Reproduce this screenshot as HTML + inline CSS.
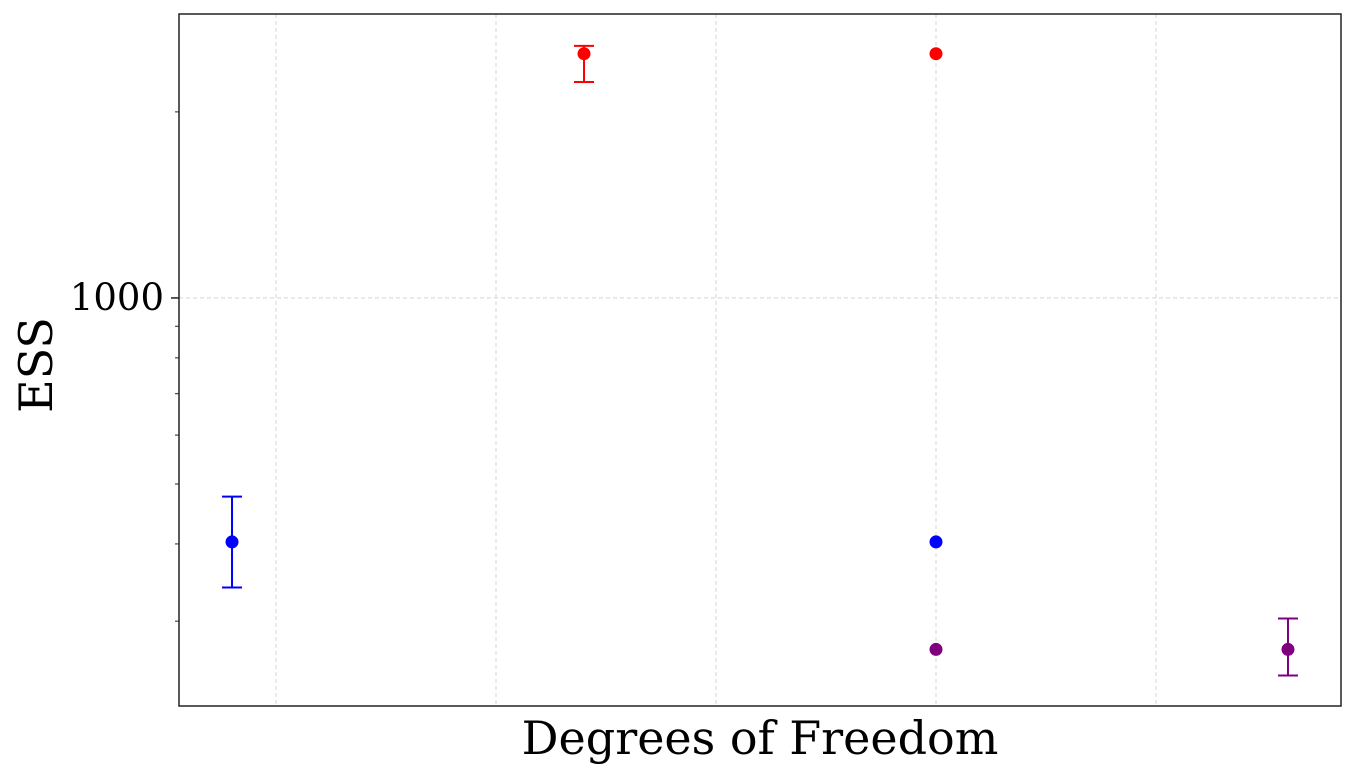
<!DOCTYPE html>
<html><head><meta charset="utf-8"><style>
body{margin:0;background:#fff;}
svg text{font-family:"DejaVu Serif","Liberation Serif",serif;fill:#000;}
</style></head><body>
<svg id="chart" width="1356" height="777" xmlns="http://www.w3.org/2000/svg">
<g id="grid"></g>
<g id="ticks"></g>
<g id="marks"></g>
<rect x="179" y="14" width="1162" height="692" fill="none" stroke="#222" stroke-width="1.5"/>
<text x="760" y="754" font-size="46" text-anchor="middle">Degrees of Freedom</text>
<text transform="translate(52,365) rotate(-90)" font-size="46" text-anchor="middle">ESS</text>
</svg>
<script>
const gridX=[1,2,3,4,5];
const majorTicks=[1000];
const majorLabels=["1000"];
const minorTicks=[300,400,500,600,700,800,900,2000];
const blueX=[0.8,4];const blueY=[403,403];const blueLo=[340,null];const blueHi=[477,null];
const redX=[2.4,4];const redY=[2484,2484];const redLo=[2236,null];const redHi=[2557,null];
const purpleX=[4,5.6];const purpleY=[270,270];const purpleLo=[null,245];const purpleHi=[null,303];
const X0=179,X1=1341,Y0=14,Y1=706;
const xmin=0.559,xmax=5.841;const ylmin=Math.log10(218.7),ylmax=Math.log10(2880);
function sx(v){return X0+(v-xmin)/(xmax-xmin)*(X1-X0);}
function sy(v){return Y1-(Math.log10(v)-ylmin)/(ylmax-ylmin)*(Y1-Y0);}
const NS="http://www.w3.org/2000/svg";
function mk(tag,attrs,parent){const e=document.createElementNS(NS,tag);for(const k in attrs)e.setAttribute(k,attrs[k]);parent.appendChild(e);return e;}
const grid=document.getElementById('grid'),ticks=document.getElementById('ticks'),marks=document.getElementById('marks');
gridX.forEach(v=>{const l=mk('line',{x1:sx(v),x2:sx(v),y1:Y0,y2:Y1,stroke:'#ccc','stroke-width':0.8,'stroke-dasharray':'4,3'},grid);

});
majorTicks.forEach((v,i)=>{const y=sy(v);
const g=mk('line',{x1:X0,x2:X1,y1:y,y2:y,stroke:'#ccc','stroke-width':0.8,'stroke-dasharray':'4,3'},grid);


const t=mk('line',{x1:X0-8,x2:X0,y1:y,y2:y,stroke:'#222','stroke-width':1.5},ticks);


const tx=mk('text',{x:X0-15,y:y+12,'font-size':37,'text-anchor':'end'},ticks);tx.textContent=majorLabels[i];

});
minorTicks.forEach(v=>{const y=sy(v);const t=mk('line',{x1:X0-4,x2:X0,y1:y,y2:y,stroke:'#222','stroke-width':1},ticks);

});
function series(xs,ys,lo,hi,color,name){xs.forEach((x,i)=>{const cx=sx(x);
if(lo[i]!=null){const a=sy(lo[i]),b=sy(hi[i]);
const e=mk('path',{d:`M${cx},${a}V${b}M${cx-10},${a}H${cx+10}M${cx-10},${b}H${cx+10}`,stroke:color,'stroke-width':2,fill:'none'},marks);

}
const c=mk('circle',{cx:cx,cy:sy(ys[i]),r:6.5,fill:color},marks);

});}
series(blueX,blueY,blueLo,blueHi,'#0000ff','blue');
series(redX,redY,redLo,redHi,'#ff0000','red');
series(purpleX,purpleY,purpleLo,purpleHi,'#800080','purple');
</script>
</body></html>
